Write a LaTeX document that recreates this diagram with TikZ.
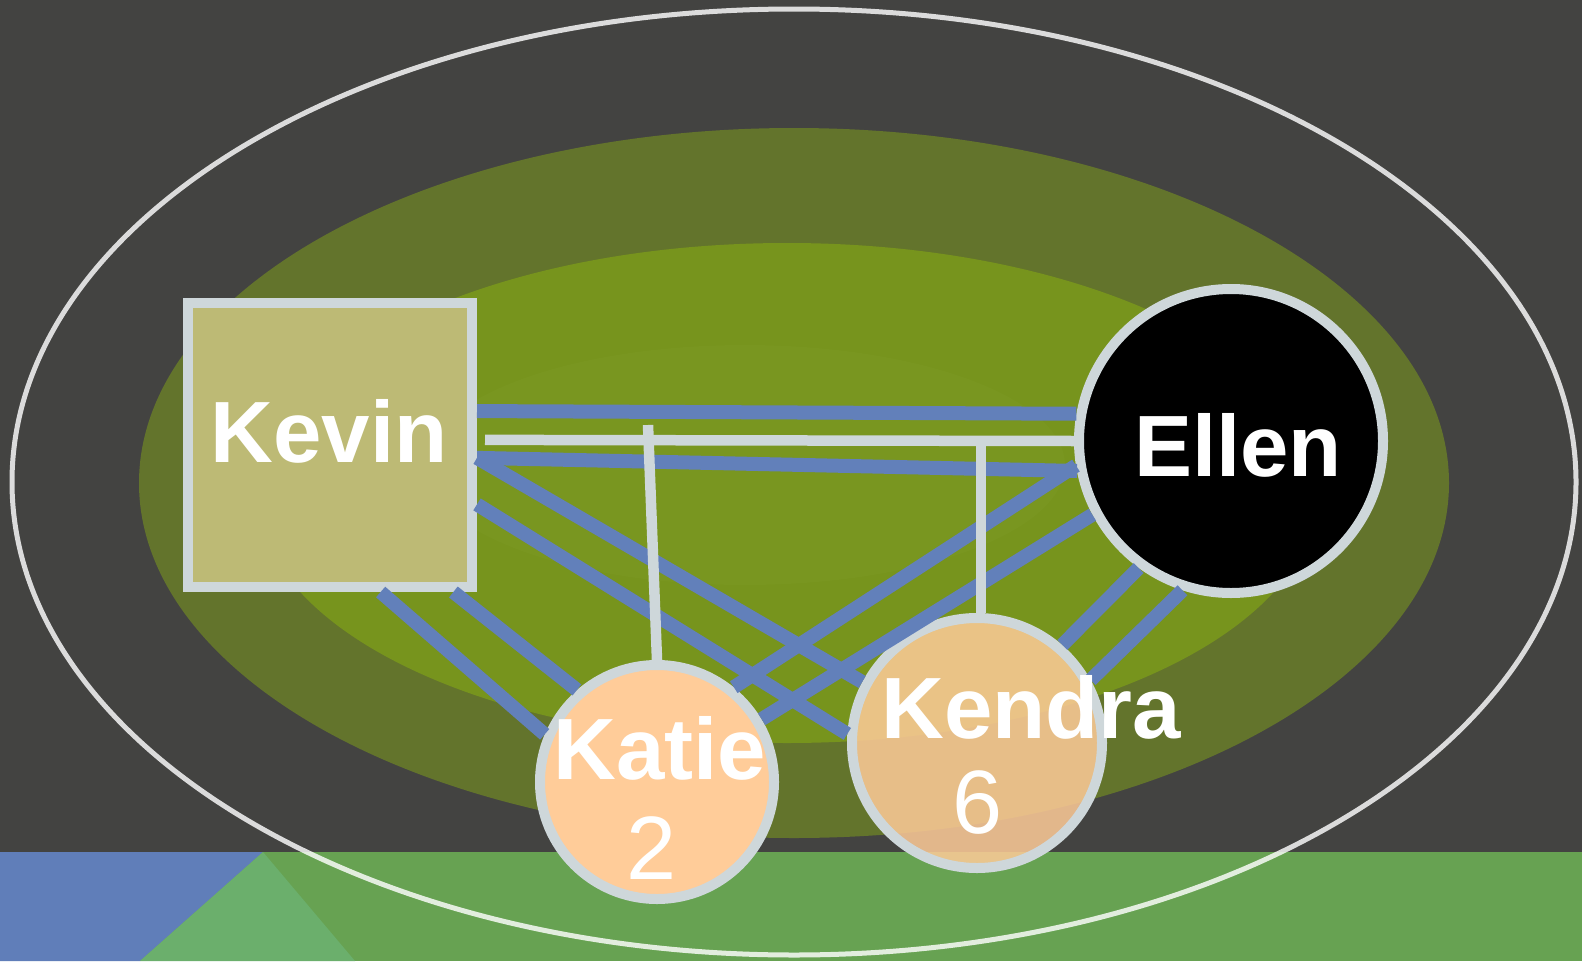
\documentclass[tikz,border=0pt]{standalone}
\usepackage{fontspec}
\setmainfont{Liberation Sans}
\definecolor{bgDark}{HTML}{434341}
\definecolor{midOlive}{HTML}{63742C}
\definecolor{innerGreen}{HTML}{77941D}
\definecolor{sheenGreen}{HTML}{799620}
\definecolor{rimGray}{HTML}{CED7DA}
\definecolor{edgeBlue}{HTML}{6280BA}
\definecolor{kevinFill}{HTML}{BDBA75}
\definecolor{peach}{HTML}{FFCC99}
\definecolor{stripGreen}{HTML}{67A252}
\definecolor{stripBlue}{HTML}{607EB9}
\definecolor{stripLight}{HTML}{6BAF6C}
\begin{document}
\begin{tikzpicture}
[x=1pt,y=-1pt,
  blueEdge/.style={-,line width=14pt,draw=edgeBlue},%
  grayEdge/.style={-,line width=10.5pt,draw=rimGray},%
  nodeDecorate/.style={inner sep=0pt,line width=10pt,draw=rimGray},%
  boxDecorate/.style={nodeDecorate,shape=rectangle,fill=kevinFill,minimum size=284pt},%
  discDecorate/.style={nodeDecorate,shape=circle,fill=peach},%
  nameText/.style={text=white,inner sep=0pt,anchor=base,font=\fontsize{87}{87}\selectfont\bfseries},%
  countText/.style={text=white,inner sep=0pt,anchor=base,font=\fontsize{90}{90}\selectfont}]
%% backdrop
\fill[bgDark] (0,0) rectangle (1582,961);
\useasboundingbox (0,0) rectangle (1582,961);
\fill[stripGreen] (0,852) rectangle (1582,961);
\fill[stripBlue] (0,852) -- (263,852) -- (140,961) -- (0,961) -- cycle;
\fill[stripLight] (263,852) -- (355,961) -- (140,961) -- cycle;
%% rings
\fill[midOlive] (794,483) ellipse [x radius=655pt,y radius=355pt];
\fill[innerGreen] (787,493) ellipse [x radius=530pt,y radius=250pt];
\fill[sheenGreen] (745,465) ellipse [x radius=320pt,y radius=120pt];
\draw[white,draw opacity=.81,line width=5pt] (794,482) ellipse [x radius=782pt,y radius=473pt];
%% nodes or vertices
\node (kevin) at (330,445) [boxDecorate] {};
\node (ellen) at (1231,441) [discDecorate,fill=black,minimum size=304pt] {};
\node (katie) at (657,782) [discDecorate,minimum size=234pt] {};
\node (kendra) at (977,743) [discDecorate,fill opacity=.85,minimum size=250pt] {};
%% edges or lines
\foreach \startnode/\sa/\endnode/\ea in {
  kevin/13.4/ellen/170.3, kevin/-5.8/ellen/191.2,
  kevin/-5.8/kendra/152, kevin/-22.5/kendra/176,
  kevin/-71.2/katie/157.2, kevin/-50.1/katie/131.5,
  ellen/189/katie/51.6, ellen/208/katie/31,
  ellen/234.2/kendra/49.3, ellen/252/kendra/29.1}
{
  \draw[blueEdge] (\startnode.\sa) -- (\endnode.\ea);
}
\coordinate (katieTap) at (648,425);
\coordinate (kendraTap) at (981,446);
\draw[grayEdge,shorten <=8pt] (kevin.2.7) -- (ellen.180);
\draw[grayEdge] (katieTap) -- (katie.north);
\draw[grayEdge] (kendraTap) -- (kendraTap |- kendra.north);
%% labels
\node (kevinName) at (329,462) [nameText] {Kevin};
\node (ellenName) at (1238,476) [nameText] {Ellen};
\node (katieName) at (660,779) [nameText] {Katie};
\node (katieCount) at (652,879) [countText] {2};
\node (kendraName) at (881,738) [nameText,anchor=base west] {Kendra};
\node (kendraCount) at (978,833) [countText] {6};
\end{tikzpicture}
\end{document}
